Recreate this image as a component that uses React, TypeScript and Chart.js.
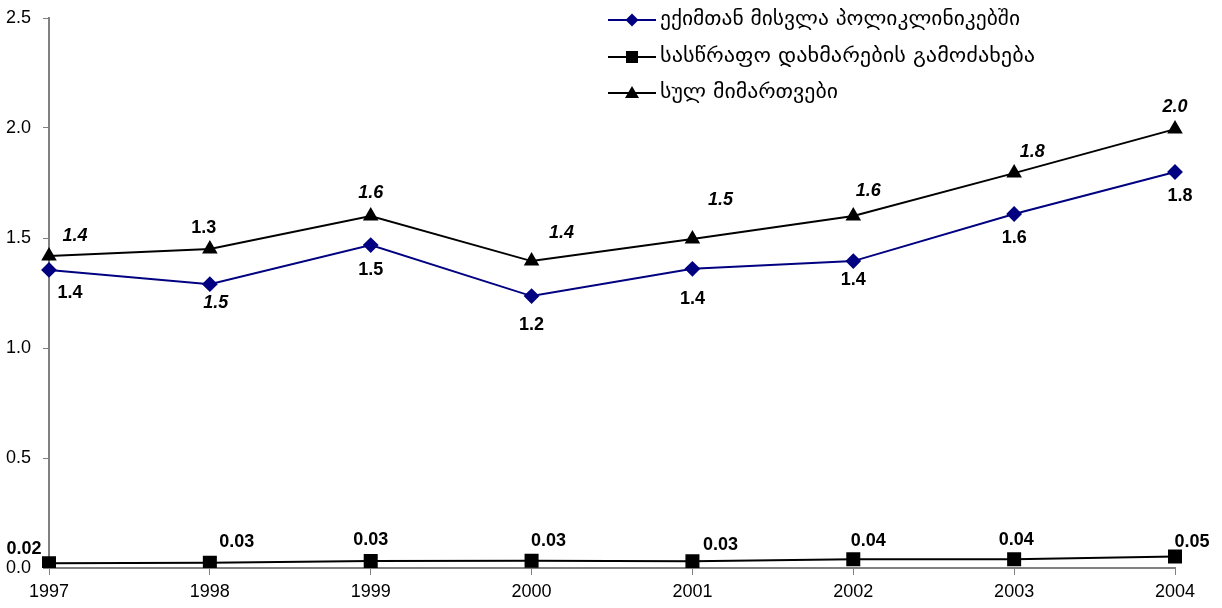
import React, { useEffect, useRef } from "react";
import { Chart, registerables } from "chart.js";

Chart.register(...registerables);

const years = ["1997", "1998", "1999", "2000", "2001", "2002", "2003", "2004"];
const seriesNames = [
  "ექიმთან მისვლა პოლიკლინიკებში",
  "სასწრაფო დახმარების გამოძახება",
  "სულ მიმართვები",
];
const clinicVisits = [1.355, 1.29, 1.468, 1.236, 1.36, 1.395, 1.609, 1.8];
const emergencyCalls = [0.022, 0.024, 0.032, 0.033, 0.031, 0.04, 0.04, 0.052];
const totalVisits = [1.418, 1.45, 1.6, 1.395, 1.495, 1.6, 1.795, 1.995];

const clinicLabels = ["1.4", "1.5", "1.5", "1.2", "1.4", "1.4", "1.6", "1.8"];
const emergencyLabels = ["0.02", "0.03", "0.03", "0.03", "0.03", "0.04", "0.04", "0.05"];
const totalLabels = ["1.4", "1.3", "1.6", "1.4", "1.5", "1.6", "1.8", "2.0"];

// label styling (offsets in px, italic flags)
const labelStyle = [
  {
    dx: [21, 6, 0, 0, 0, 0, 0, 5],
    dy: [23, 19, 25, 29, 30, 19, 24, 24],
    italic: [false, true, false, false, false, false, false, false],
  },
  {
    dx: [-25, 27, 0, 17, 28, 15, 2, 17],
    dy: [-14, -21, -21, -20, -16, -18, -19, -15],
    italic: [false, false, false, false, false, false, false, false],
  },
  {
    dx: [26, -6, 0, 30, 28, 15, 18, 0],
    dy: [-20, -21, -23, -28, -39, -25, -21, -22],
    italic: [true, false, true, true, true, true, true, true],
  },
];
const labelTexts = [clinicLabels, emergencyLabels, totalLabels];
const legendTextWidths = [360, 375, 178];

const labelPlugin = {
  id: "pointLabels",
  afterDatasetsDraw(chart: any) {
    const ctx = chart.ctx;
    ctx.save();
    ctx.fillStyle = "#000";
    ctx.textAlign = "center";
    ctx.textBaseline = "middle";
    chart.data.datasets.forEach((ds: any, di: number) => {
      const meta = chart.getDatasetMeta(di);
      meta.data.forEach((pt: any, i: number) => {
        const st = labelStyle[di];
        ctx.font = (st.italic[i] ? "italic " : "") + "bold 18px 'Liberation Sans', Arial, sans-serif";
        ctx.fillText(labelTexts[di][i], pt.x + st.dx[i], pt.y + st.dy[i]);
      });
    });
    ctx.restore();
  },
};

function drawMarker(ctx: any, style: string, x: number, y: number, color: string) {
  ctx.fillStyle = color;
  ctx.beginPath();
  if (style === "rectRot") {
    const r = 6.5;
    ctx.moveTo(x, y - r);
    ctx.lineTo(x + r, y);
    ctx.lineTo(x, y + r);
    ctx.lineTo(x - r, y);
  } else if (style === "rect") {
    const s = 6;
    ctx.rect(x - s, y - s, 2 * s, 2 * s);
  } else {
    const r = 7;
    ctx.moveTo(x, y - r);
    ctx.lineTo(x + r, y + r * 0.7);
    ctx.lineTo(x - r, y + r * 0.7);
  }
  ctx.closePath();
  ctx.fill();
}

const legendPlugin = {
  id: "customLegend",
  afterDraw(chart: any) {
    const ctx = chart.ctx;
    ctx.save();
    const x0 = 608;
    const rows = [20, 57, 93];
    chart.data.datasets.forEach((ds: any, di: number) => {
      const y = rows[di];
      ctx.strokeStyle = ds.borderColor;
      ctx.lineWidth = 2;
      ctx.beginPath();
      ctx.moveTo(x0, y);
      ctx.lineTo(x0 + 48, y);
      ctx.stroke();
      drawMarker(ctx, ds.pointStyle, x0 + 24, y, ds.pointBackgroundColor);
      ctx.fillStyle = "#000";
      ctx.font = "20px 'DejaVu Sans', 'Noto Sans', sans-serif";
      ctx.textAlign = "left";
      ctx.textBaseline = "middle";
      const txt = seriesNames[di];
      const w = ctx.measureText(txt).width;
      const sx = legendTextWidths[di] / w;
      ctx.save();
      ctx.translate(x0 + 52, y);
      ctx.scale(sx, 1);
      ctx.fillText(txt, 0, 0);
      ctx.restore();
    });
    ctx.restore();
  },
};

export default function App() {
  const ref = useRef<HTMLCanvasElement | null>(null);
  useEffect(() => {
    document.body.style.margin = "0";
    const canvas = ref.current!;
    const chart = new Chart(canvas, {
      type: "line",
      data: {
        labels: years,
        datasets: [
          {
            label: seriesNames[0],
            data: clinicVisits,
            borderColor: "#000080",
            backgroundColor: "#000080",
            pointBackgroundColor: "#000080",
            pointBorderColor: "#000080",
            pointStyle: "rectRot",
            pointRadius: 6.5,
            borderWidth: 2,
            tension: 0,
          },
          {
            label: seriesNames[1],
            data: emergencyCalls,
            borderColor: "#000000",
            backgroundColor: "#000000",
            pointBackgroundColor: "#000000",
            pointBorderColor: "#000000",
            pointStyle: "rect",
            pointRadius: 8.5,
            borderWidth: 2,
            tension: 0,
          },
          {
            label: seriesNames[2],
            data: totalVisits,
            borderColor: "#000000",
            backgroundColor: "#000000",
            pointBackgroundColor: "#000000",
            pointBorderColor: "#000000",
            pointStyle: "triangle",
            pointRadius: 7,
            borderWidth: 2,
            tension: 0,
          },
        ],
      },
      options: {
        animation: false,
        responsive: false,
        devicePixelRatio: 1,
        layout: { padding: { top: 18, right: 47, left: 0, bottom: 0 } },
        plugins: { legend: { display: false }, tooltip: { enabled: false } },
        scales: {
          x: {
            offset: false,
            grid: { drawOnChartArea: false, drawTicks: true, tickLength: 7, color: "#808080", lineWidth: 1 },
            border: { color: "#808080", width: 2 },
            ticks: {
              color: "#000",
              font: { family: "'Liberation Sans', Arial, sans-serif", size: 18 },
              padding: 6,
              maxRotation: 0,
              autoSkip: false,
            },
            afterFit: (s: any) => {
              s.height = 40;
              s.paddingLeft = 0;
              s.paddingRight = 0;
            },
          },
          y: {
            min: 0,
            max: 2.5,
            grid: { drawOnChartArea: false, drawTicks: true, tickLength: 6, color: "#808080", lineWidth: 1 },
            border: { color: "#808080", width: 2 },
            ticks: {
              stepSize: 0.5,
              color: "#000",
              font: { family: "'Liberation Sans', Arial, sans-serif", size: 18 },
              padding: 12,
              callback: (v: any) => Number(v).toFixed(1),
            },
            afterFit: (s: any) => {
              s.width = 49;
              s.paddingTop = 0;
              s.paddingBottom = 0;
            },
          },
        },
      },
      plugins: [labelPlugin, legendPlugin],
    });
    return () => chart.destroy();
  }, []);
  return (
    <div style={{ width: 1222, height: 608, background: "#fff" }}>
      <canvas ref={ref} width={1222} height={608} style={{ display: "block" }} />
    </div>
  );
}
